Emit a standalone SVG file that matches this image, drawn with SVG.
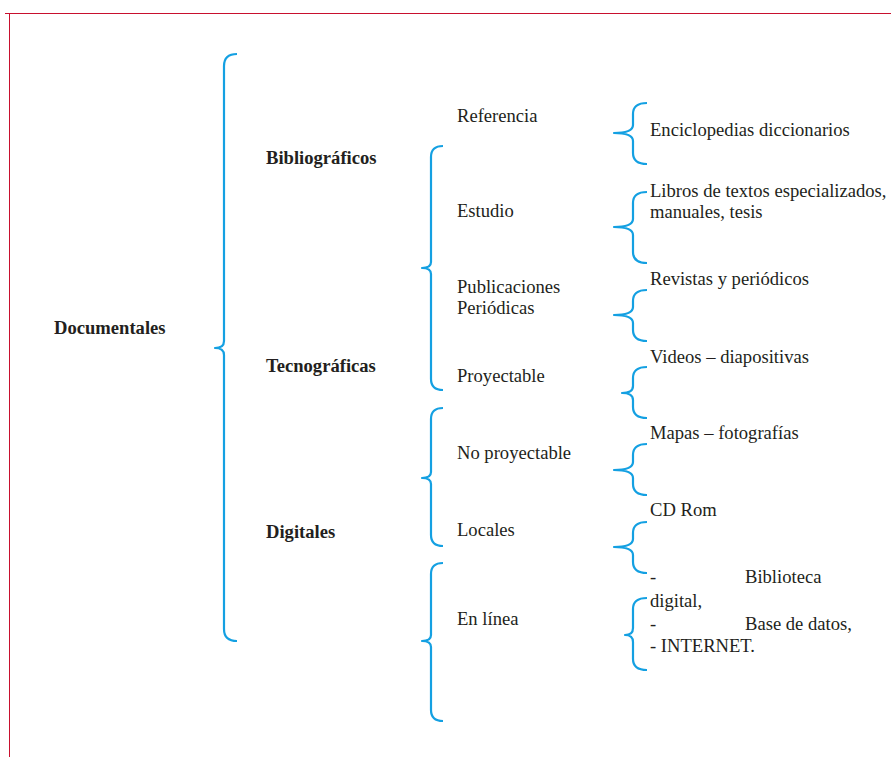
<svg xmlns="http://www.w3.org/2000/svg" width="891" height="757" viewBox="0 0 891 757">
<style>
.br{fill:none;stroke:#14a0e2;stroke-width:2.2;stroke-linecap:butt;stroke-linejoin:round}
.t{font-family:"Liberation Serif","Times New Roman",serif;font-size:18.6px;fill:#231f20}
.b{font-family:"Liberation Serif","Times New Roman",serif;font-size:18.6px;font-weight:bold;fill:#231f20}
.fr{stroke:#c8102e;stroke-width:1;fill:none}
</style>
<rect width="891" height="757" fill="#ffffff"/>
<path class="fr" d="M5 13.5 H891 M9.5 13 V757"/>
<g id="connectors">
<path class="br" d="M237 54 Q224 54 224 66 L224 341 Q224 348 215 348 Q224 348 224 355 L224 629 Q224 641 237 641"/>
<path class="br" d="M443 146 Q431 146 431 157 L431 262 Q431 268 422 268 Q431 268 431 274 L431 379 Q431 390 443 390"/>
<path class="br" d="M443 408 Q431 408 431 419 L431 472 Q431 478 422 478 Q431 478 431 484 L431 535 Q431 546 443 546"/>
<path class="br" d="M443 563 Q431 563 431 574 L431 635 Q431 641 422 641 Q431 641 431 647 L431 710 Q431 721 443 721"/>
<path class="br" d="M647 103 Q633 103 633 114 L633 125 Q633 133 614 133 Q633 133 633 141 L633 153 Q633 164 647 164"/>
<path class="br" d="M647 192 Q633 192 633 203 L633 219 Q633 227 614 227 Q633 227 633 235 L633 252 Q633 263 647 263"/>
<path class="br" d="M647 290 Q633 290 633 301 L633 307 Q633 315 614 315 Q633 315 633 323 L633 330 Q633 341 647 341"/>
<path class="br" d="M647 367 Q633 367 633 378 L633 386 Q633 393 622 393 Q633 393 633 400 L633 407 Q633 418 647 418"/>
<path class="br" d="M647 444 Q633 444 633 455 L633 462 Q633 470 614 470 Q633 470 633 478 L633 484 Q633 495 647 495"/>
<path class="br" d="M647 522 Q633 522 633 533 L633 539 Q633 547 614 547 Q633 547 633 555 L633 562 Q633 573 647 573"/>
<path class="br" d="M647 598 Q633 598 633 609 L633 628 Q633 635 625 635 Q633 635 633 642 L633 659 Q633 670 647 670"/>
</g>
<g id="documentales"><text class="b" x="54" y="334">Documentales</text></g>
<g id="bibliograficos"><text class="b" x="266" y="164">Bibliográficos</text></g>
<g id="tecnograficas"><text class="b" x="266" y="372">Tecnográficas</text></g>
<g id="digitales"><text class="b" x="266" y="538">Digitales</text></g>
<g id="referencia"><text class="t" x="457" y="122">Referencia</text></g>
<g id="estudio"><text class="t" x="457" y="217">Estudio</text></g>
<g id="publicaciones"><text class="t" x="457" y="293">Publicaciones</text><text class="t" x="457" y="314">Periódicas</text></g>
<g id="proyectable"><text class="t" x="457" y="382">Proyectable</text></g>
<g id="noproyectable"><text class="t" x="457" y="459">No proyectable</text></g>
<g id="locales"><text class="t" x="457" y="536">Locales</text></g>
<g id="enlinea"><text class="t" x="457" y="625">En línea</text></g>
<g id="enciclopedias"><text class="t" x="650" y="136">Enciclopedias diccionarios</text></g>
<g id="libros"><text class="t" x="650" y="197">Libros de textos especializados,</text><text class="t" x="650" y="218">manuales, tesis</text></g>
<g id="revistas"><text class="t" x="650" y="285">Revistas y periódicos</text></g>
<g id="videos"><text class="t" x="650" y="363">Videos – diapositivas</text></g>
<g id="mapas"><text class="t" x="650" y="439">Mapas – fotografías</text></g>
<g id="cdrom"><text class="t" x="650" y="516">CD Rom</text></g>
<g id="online">
<text class="t" x="650" y="583">-</text><text class="t" x="745" y="583">Biblioteca</text>
<text class="t" x="650" y="607">digital,</text>
<text class="t" x="650" y="630">-</text><text class="t" x="745" y="630">Base de datos,</text>
<text class="t" x="650" y="652">- INTERNET.</text>
</g>
</svg>
